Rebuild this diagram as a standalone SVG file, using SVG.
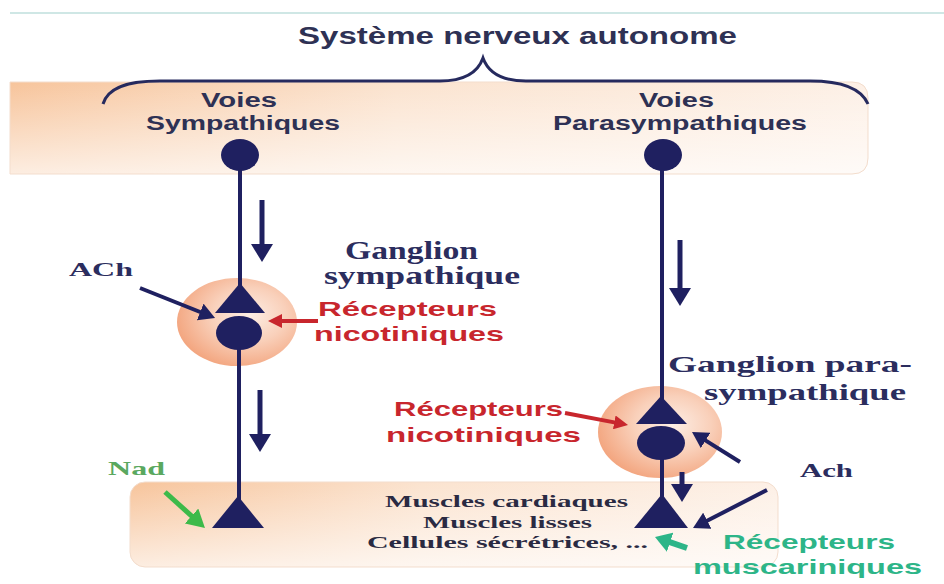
<svg xmlns="http://www.w3.org/2000/svg" width="944" height="584" viewBox="0 0 944 584">
<style>
.sans{font-family:"Liberation Sans",Arial,sans-serif;font-weight:bold}
.serif{font-family:"Liberation Serif","Times New Roman",serif;font-weight:bold}
.navyfill{fill:#1f2060}
.axon{stroke:#1f2060;stroke-width:4;fill:none}
.arr{stroke:#1f2060;stroke-width:5;fill:none}
.arrs{stroke:#1f2060;stroke-width:4;fill:none}
.t-head{fill:#2e3154}
.t-gang{fill:#2b2d5e}
.t-red{fill:#c8262d}
.t-tis{fill:#2a2a42}
</style>
<defs>
<linearGradient id="bandH" x1="0" y1="0" x2="1" y2="0">
<stop offset="0" stop-color="#f7c49b"/>
<stop offset="0.45" stop-color="#fbe3cf"/>
<stop offset="1" stop-color="#fdf0e6"/>
</linearGradient>
<linearGradient id="fadeV" x1="0" y1="0" x2="0" y2="1">
<stop offset="0" stop-color="#ffffff" stop-opacity="0"/>
<stop offset="1" stop-color="#ffffff" stop-opacity="0.7"/>
</linearGradient>
<radialGradient id="gang" cx="0.6" cy="0.42" r="0.62">
<stop offset="0" stop-color="#fdeee5"/>
<stop offset="0.5" stop-color="#f9d0ba"/>
<stop offset="1" stop-color="#f3a680"/>
</radialGradient>
<marker id="mNavy" viewBox="0 0 18 22" markerWidth="18" markerHeight="22" refX="5" refY="11" orient="auto" markerUnits="userSpaceOnUse"><path d="M0,0 L18,11 L0,22 z" fill="#1f2060"/></marker>
<marker id="mNavyS" viewBox="0 0 16 18" markerWidth="16" markerHeight="18" refX="4" refY="9" orient="auto" markerUnits="userSpaceOnUse"><path d="M0,0 L16,9 L0,18 z" fill="#1f2060"/></marker>
<marker id="mRed" viewBox="0 0 14 14" markerWidth="14" markerHeight="14" refX="4" refY="7" orient="auto" markerUnits="userSpaceOnUse"><path d="M0,0 L14,7 L0,14 z" fill="#c8262d"/></marker>
<marker id="mGreen" viewBox="0 0 18 20" markerWidth="18" markerHeight="20" refX="5" refY="10" orient="auto" markerUnits="userSpaceOnUse"><path d="M0,0 L18,10 L0,20 z" fill="#3dba4a"/></marker>
<marker id="mTeal" viewBox="0 0 16 20" markerWidth="16" markerHeight="20" refX="5" refY="10" orient="auto" markerUnits="userSpaceOnUse"><path d="M0,0 L16,10 L0,20 z" fill="#2db588"/></marker>
</defs>

<rect width="944" height="584" fill="#ffffff"/>
<line x1="10" y1="13" x2="944" y2="13" stroke="#cfe7e5" stroke-width="2"/>

<g id="top-band">
<path d="M10,82 L852,82 Q868,82 868,98 L868,158 Q868,174 852,174 L10,174 z" fill="url(#bandH)"/>
<path d="M10,82 L852,82 Q868,82 868,98 L868,158 Q868,174 852,174 L10,174 z" fill="url(#fadeV)" stroke="#f3ddcd" stroke-width="1"/>
</g>
<g id="bottom-band">
<rect x="130" y="482" width="648" height="85" rx="15" fill="url(#bandH)"/>
<rect x="130" y="482" width="648" height="85" rx="15" fill="url(#fadeV)" stroke="#f3ddcd" stroke-width="1"/>
</g>

<g id="title">
<text class="sans t-head" x="298" y="44" font-size="23" textLength="439" lengthAdjust="spacingAndGlyphs">Système nerveux autonome</text>
<path d="M103,104 C107,90 122,81 160,81 L440,81 C465,81 478,72 483,58 C488,72 501,81 526,81 L810,81 C845,81 862,90 868,104" fill="none" stroke="#262a5e" stroke-width="3"/>
</g>

<g id="ganglion-symp-bg"><ellipse cx="237" cy="322" rx="60" ry="44" fill="url(#gang)"/></g>
<g id="ganglion-para-bg"><ellipse cx="660" cy="432" rx="62" ry="46" fill="url(#gang)"/></g>

<g id="connectors">
<line class="axon" x1="240" y1="155" x2="240" y2="290"/>
<line class="axon" x1="239" y1="333" x2="239" y2="505"/>
<line class="axon" x1="662" y1="155" x2="662" y2="402"/>
<line class="axon" x1="662" y1="443" x2="662" y2="500"/>
<line class="arr" x1="262" y1="200" x2="262" y2="249" marker-end="url(#mNavy)"/>
<line class="arr" x1="260" y1="390" x2="260" y2="439" marker-end="url(#mNavy)"/>
<line class="arr" x1="680" y1="240" x2="680" y2="293" marker-end="url(#mNavy)"/>
<line class="arr" x1="682" y1="472" x2="682" y2="489" marker-end="url(#mNavy)"/>
<line class="arrs" x1="140" y1="288" x2="203.9" y2="313.5" marker-end="url(#mNavyS)"/>
<line class="arrs" x1="740" y1="462" x2="702.2" y2="438.4" marker-end="url(#mNavyS)"/>
<line class="arrs" x1="767" y1="490" x2="703.7" y2="522.5" marker-end="url(#mNavyS)"/>
<line x1="318" y1="321" x2="278" y2="321" stroke="#c8262d" stroke-width="4" marker-end="url(#mRed)"/>
<line x1="565" y1="413" x2="618.2" y2="423.1" stroke="#c8262d" stroke-width="4" marker-end="url(#mRed)"/>
<line x1="165" y1="492" x2="195.3" y2="519.3" stroke="#3dba4a" stroke-width="5" marker-end="url(#mGreen)"/>
<line x1="687" y1="548" x2="665.4" y2="540.6" stroke="#2db588" stroke-width="6" marker-end="url(#mTeal)"/>
</g>

<g id="voies-sympathiques">
<text class="sans t-head" x="201" y="107" font-size="20" textLength="76" lengthAdjust="spacingAndGlyphs">Voies</text>
<text class="sans t-head" x="146" y="130" font-size="20" textLength="194" lengthAdjust="spacingAndGlyphs">Sympathiques</text>
<ellipse class="navyfill" cx="240" cy="155" rx="19" ry="16"/>
</g>
<g id="voies-parasympathiques">
<text class="sans t-head" x="639" y="107" font-size="20" textLength="75" lengthAdjust="spacingAndGlyphs">Voies</text>
<text class="sans t-head" x="553" y="130" font-size="20" textLength="254" lengthAdjust="spacingAndGlyphs">Parasympathiques</text>
<ellipse class="navyfill" cx="663" cy="155" rx="19" ry="16"/>
</g>

<g id="ganglion-sympathique">
<polygon class="navyfill" points="240,283 215,313 265,313"/>
<ellipse class="navyfill" cx="239" cy="333" rx="23" ry="17"/>
<text class="serif t-gang" x="345" y="259" font-size="25" textLength="133" lengthAdjust="spacingAndGlyphs">Ganglion</text>
<text class="serif t-gang" x="324" y="284" font-size="25" textLength="196" lengthAdjust="spacingAndGlyphs">sympathique</text>
<text class="serif t-gang" x="69" y="276" font-size="19" textLength="64" lengthAdjust="spacingAndGlyphs">ACh</text>
<text class="sans t-red" x="318" y="316" font-size="21" textLength="179" lengthAdjust="spacingAndGlyphs">Récepteurs</text>
<text class="sans t-red" x="314" y="341" font-size="21" textLength="190" lengthAdjust="spacingAndGlyphs">nicotiniques</text>
</g>

<g id="ganglion-parasympathique">
<polygon class="navyfill" points="661,396 636,424 687,424"/>
<ellipse class="navyfill" cx="661" cy="443" rx="24" ry="17"/>
<text class="serif t-gang" x="668" y="372" font-size="24" textLength="244" lengthAdjust="spacingAndGlyphs">Ganglion para-</text>
<text class="serif t-gang" x="704" y="400" font-size="24" textLength="202" lengthAdjust="spacingAndGlyphs">sympathique</text>
<text class="sans t-red" x="394" y="416" font-size="21" textLength="169" lengthAdjust="spacingAndGlyphs">Récepteurs</text>
<text class="sans t-red" x="386" y="442" font-size="21" textLength="195" lengthAdjust="spacingAndGlyphs">nicotiniques</text>
<text class="serif t-gang" x="800" y="477" font-size="19" textLength="53" lengthAdjust="spacingAndGlyphs">Ach</text>
</g>

<g id="effecteur-sympathique">
<polygon class="navyfill" points="238,496 212,528 264,528"/>
<text class="serif" x="108" y="475" font-size="19" fill="#5aa85f" textLength="57" lengthAdjust="spacingAndGlyphs">Nad</text>
</g>

<g id="effecteur-parasympathique">
<polygon class="navyfill" points="662,494 634,528 688,528"/>
<text class="sans" x="723" y="549" font-size="21" fill="#2db588" textLength="172" lengthAdjust="spacingAndGlyphs">Récepteurs</text>
<text class="sans" x="693" y="574" font-size="21" fill="#2db588" textLength="229" lengthAdjust="spacingAndGlyphs">muscariniques</text>
</g>

<g id="tissus">
<text class="serif t-tis" x="385" y="507" font-size="17" textLength="243" lengthAdjust="spacingAndGlyphs">Muscles cardiaques</text>
<text class="serif t-tis" x="423" y="528" font-size="17" textLength="169" lengthAdjust="spacingAndGlyphs">Muscles lisses</text>
<text class="serif t-tis" x="367" y="548" font-size="17" textLength="281" lengthAdjust="spacingAndGlyphs">Cellules sécrétrices, ...</text>
</g>
</svg>
